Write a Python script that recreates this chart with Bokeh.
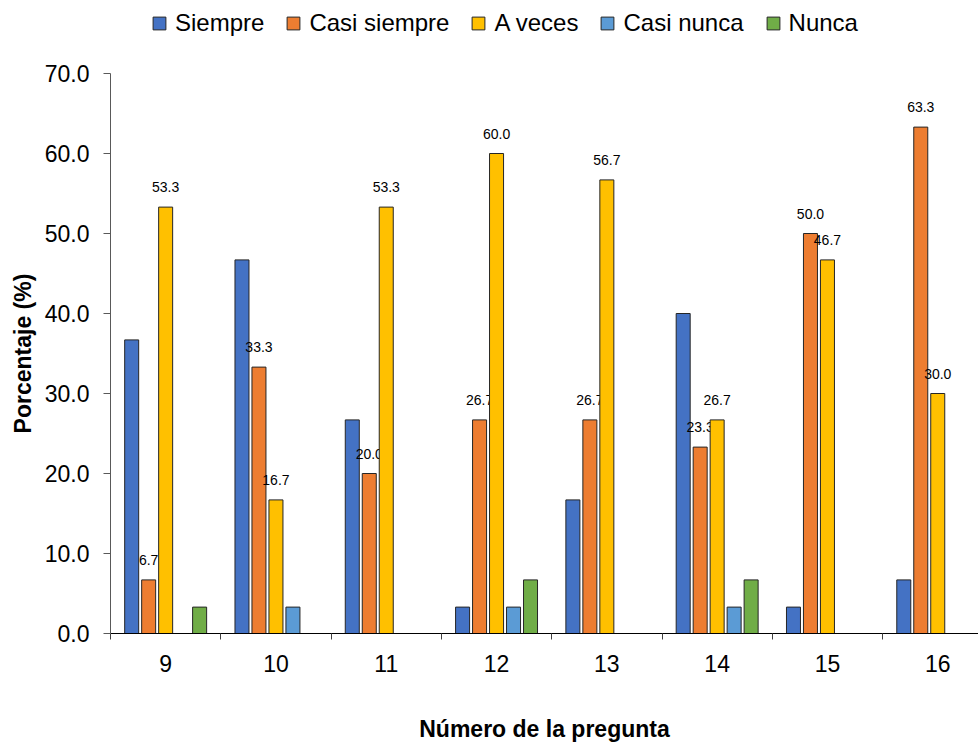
from bokeh.plotting import figure
from bokeh.layouts import column
from bokeh.models import (ColumnDataSource, FixedTicker, Range1d, Legend, LegendItem,
                          NumeralTickFormatter)
from bokeh.core.properties import value
from bokeh.embed import file_html
from bokeh.resources import INLINE

questions = ["9", "10", "11", "12", "13", "14", "15", "16"]
series = ["Siempre", "Casi siempre", "A veces", "Casi nunca", "Nunca"]
siempre = [36.7, 46.7, 26.7, 3.3, 16.7, 40.0, 3.3, 6.7]
casi_siempre = [6.7, 33.3, 20.0, 26.7, 26.7, 23.3, 50.0, 63.3]
a_veces = [53.3, 16.7, 53.3, 60.0, 56.7, 26.7, 46.7, 30.0]
casi_nunca = [0.0, 3.3, 0.0, 3.3, 0.0, 3.3, 0.0, 0.0]
nunca = [3.3, 0.0, 0.0, 6.7, 0.0, 6.7, 0.0, 0.0]
y_ticks = [0, 10, 20, 30, 40, 50, 60, 70]
labelled = ["Casi siempre", "A veces"]

values = [siempre, casi_siempre, a_veces, casi_nunca, nunca]
colors = ["#4472C4", "#ED7D31", "#FFC000", "#5B9BD5", "#70AD47"]
edge = "#262626"

FONT = "Liberation Sans"
FS = "23px"
n = len(questions)
pitch = 0.154
bw = 0.127
W = 978
LEFT = 110
X_END = (W - LEFT) / 110.3

sources = []
for j, vals in enumerate(values):
    xs = [i + 0.5 + (j - 2) * pitch for i in range(n)]
    sources.append(ColumnDataSource(dict(x=xs, top=vals,
                                         lab=[f"{v:.1f}" for v in vals])))

# ---- legend strip ----
lg = figure(width=W, height=50, output_backend="svg", toolbar_location=None,
            x_range=Range1d(0, X_END), y_range=Range1d(100, 101),
            min_border_left=LEFT, min_border_right=0, min_border_top=0,
            min_border_bottom=0)
lg.axis.visible = False
lg.grid.visible = False
lg.outline_line_color = None
items = []
for name, col, src in zip(series, colors, sources):
    r = lg.scatter(x="x", y="top", marker="square", size=12, source=src,
                   fill_color=col, line_color=edge, line_width=1)
    items.append(LegendItem(label=name, renderers=[r]))
legend = Legend(items=items, orientation="horizontal", location=(33, 11),
                glyph_width=32, glyph_height=32, label_standoff=0, spacing=13,
                padding=0, margin=0, border_line_color=None,
                background_fill_alpha=0,
                label_text_font=FONT, label_text_font_size="24px",
                label_text_color="#000000")
lg.add_layout(legend, "center")

# ---- main chart ----
p = figure(width=W, height=695, output_backend="svg", toolbar_location=None,
           x_range=Range1d(0, X_END), y_range=Range1d(0, 70),
           min_border_left=LEFT, min_border_top=23, min_border_bottom=112,
           min_border_right=0)
p.outline_line_color = None
p.xgrid.visible = False
p.ygrid.visible = False

for name, src, col in zip(series, sources, colors):
    p.vbar(x="x", top="top", width=bw, source=src, fill_color=col,
           line_color=edge, line_width=1)
    if name in labelled:
        p.text(x="x", y="top", text="lab", source=src, text_font=value(FONT),
               text_font_size="14px", text_color="#000000", text_align="center",
               text_baseline="middle", y_offset=-20)

# x axis
p.xaxis.ticker = FixedTicker(ticks=[i + 0.5 for i in range(n)],
                             minor_ticks=list(range(n + 1)))
p.xaxis.major_label_overrides = {i + 0.5: q for i, q in enumerate(questions)}
p.xaxis.major_tick_out = 0
p.xaxis.major_tick_in = 0
p.xaxis.minor_tick_out = 6
p.xaxis.minor_tick_in = 0
p.xaxis.minor_tick_line_color = "#404040"
p.xaxis.axis_line_color = "#000000"
p.xaxis.major_label_standoff = 15
p.xaxis.major_label_text_font = FONT
p.xaxis.major_label_text_font_size = FS
p.xaxis.major_label_text_color = "#000000"
p.xaxis.axis_label = "Número de la pregunta"
p.xaxis.axis_label_text_font = FONT
p.xaxis.axis_label_text_font_style = "bold"
p.xaxis.axis_label_text_font_size = FS
p.xaxis.axis_label_text_color = "#000000"
p.xaxis.axis_label_standoff = 41

# y axis
p.yaxis.ticker = FixedTicker(ticks=y_ticks)
p.yaxis.formatter = NumeralTickFormatter(format="0.0")
p.yaxis.minor_tick_line_color = None
p.yaxis.major_tick_out = 7
p.yaxis.major_tick_in = 0
p.yaxis.major_tick_line_color = "#595959"
p.yaxis.axis_line_color = "#595959"
p.yaxis.major_label_standoff = 14
p.yaxis.major_label_text_font = FONT
p.yaxis.major_label_text_font_size = FS
p.yaxis.major_label_text_color = "#000000"
p.yaxis.axis_label = "Porcentaje (%)"
p.yaxis.axis_label_text_font = FONT
p.yaxis.axis_label_text_font_style = "bold"
p.yaxis.axis_label_text_font_size = FS
p.yaxis.axis_label_text_color = "#000000"
p.yaxis.axis_label_standoff = 6

layout = column(lg, p, spacing=0)
open("out.html", "w").write(file_html(layout, INLINE))
